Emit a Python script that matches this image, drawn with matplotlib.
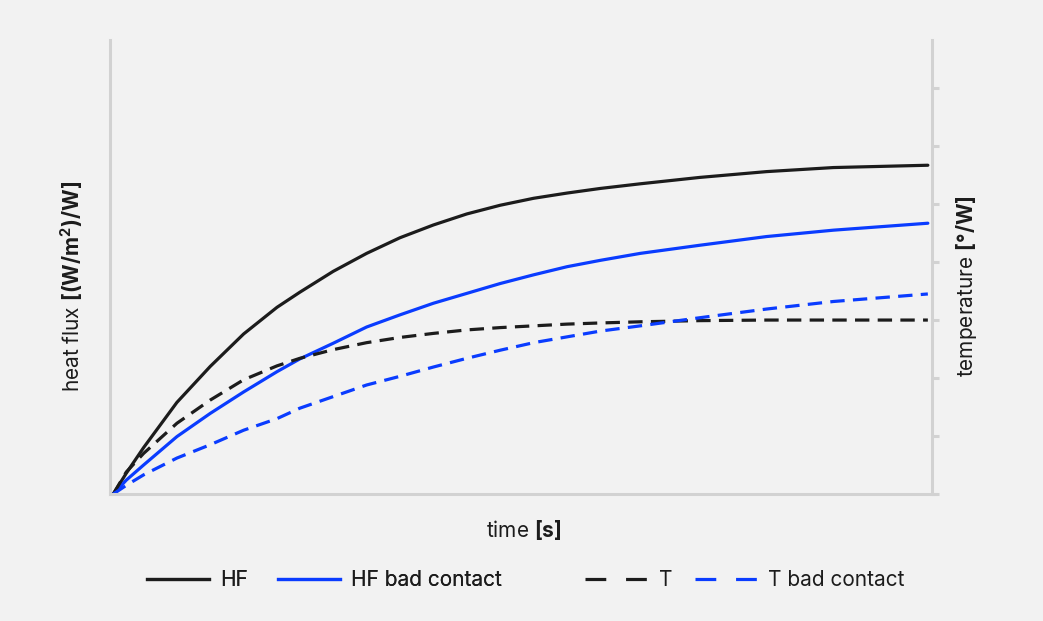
import matplotlib
matplotlib.use("Agg")
import matplotlib.pyplot as plt
from matplotlib.lines import Line2D

plt.rcParams['font.family'] = ['Inter', 'DejaVu Sans']
plt.rcParams['mathtext.fontset'] = 'custom'
plt.rcParams['mathtext.rm'] = 'Inter'
plt.rcParams['mathtext.it'] = 'Inter'
plt.rcParams['mathtext.bf'] = 'Inter:bold'

# time axis (arbitrary units) and curves
t = [0, 1.6, 3.72, 7.81, 11.9, 16.0, 20.1, 22.9, 27.0, 31.1, 35.2, 39.3, 43.4,
     47.5, 51.6, 55.7, 59.8, 64.7, 72.0, 80.2, 88.4, 100]
hf = [0, 0.36, 0.80, 1.58, 2.20, 2.76, 3.22, 3.48, 3.84, 4.15, 4.42, 4.64, 4.83,
      4.98, 5.10, 5.19, 5.27, 5.35, 5.46, 5.56, 5.63, 5.67]
hf_bad = [0, 0.24, 0.50, 0.99, 1.39, 1.76, 2.11, 2.33, 2.60, 2.88, 3.09, 3.29, 3.46,
          3.63, 3.78, 3.92, 4.03, 4.15, 4.29, 4.44, 4.55, 4.67]
temp = [0, 0.38, 0.70, 1.22, 1.62, 1.97, 2.21, 2.34, 2.49, 2.61, 2.70, 2.77, 2.83,
        2.87, 2.90, 2.93, 2.95, 2.97, 2.99, 3.00, 3.00, 3.00]
temp_bad = [0, 0.15, 0.33, 0.62, 0.85, 1.10, 1.30, 1.48, 1.68, 1.88, 2.03, 2.19, 2.34,
            2.48, 2.61, 2.71, 2.81, 2.90, 3.04, 3.19, 3.32, 3.45]

labels = ['HF', 'HF bad contact', 'T', 'T bad contact']

bg = '#f2f2f2'
grey = '#d2d2d2'
black = '#1c1c1c'
blue = '#0a3cff'

fig = plt.figure(figsize=(10.43, 6.21), dpi=100, facecolor=bg)
ax = fig.add_axes([0.1055, 0.2045, 0.788, 0.7311])
ax.set_facecolor(bg)

ax.plot(t, hf, color=black, lw=2.3, solid_capstyle='round', solid_joinstyle='round')
ax.plot(t, hf_bad, color=blue, lw=2.3, solid_capstyle='round', solid_joinstyle='round')
ax.plot(t, temp, color=black, lw=2.3, dashes=(4.5, 2.6))
ax.plot(t, temp_bad, color=blue, lw=2.3, dashes=(4.5, 2.6))

ax.set_xlim(-0.4, 100.5)
ax.set_ylim(0, 7.83)

ax.spines['top'].set_visible(False)
for s in ['left', 'right', 'bottom']:
    ax.spines[s].set_color(grey)
    ax.spines[s].set_linewidth(2.2)
ax.spines['bottom'].set_bounds(-0.4, 100.9)

ax.set_xticks([])
ax.yaxis.tick_right()
ax.set_yticks(range(8))
ax.set_yticklabels([])
ax.tick_params(axis='y', colors=grey, length=5, width=2.2, direction='out')

txt = dict(color=black, fontsize=15)
fig.text(0.069, 0.539, r'heat flux $\mathbf{[(W/m^2)/W]}$', rotation=90, ha='center', va='center', **txt)
fig.text(0.927, 0.539, r'temperature $\mathbf{[°/W]}$', rotation=90, ha='center', va='center', **txt)
fig.text(0.502, 0.147, r'time $\mathbf{[s]}$', ha='center', va='center', **txt)

handles = [
    Line2D([], [], color=black, lw=2.3),
    Line2D([], [], color=blue, lw=2.3),
    Line2D([], [], color=black, lw=2.3, dashes=(6.5, 6.2)),
    Line2D([], [], color=blue, lw=2.3, dashes=(6.5, 6.2)),
]
leg_kw = dict(frameon=False, fontsize=15, handlelength=2.98, handletextpad=0.55,
              borderpad=0, borderaxespad=0, loc='center left', labelcolor=black)
leg1 = fig.legend(handles[:2], labels[:2], ncol=2, columnspacing=1.4,
                  bbox_to_anchor=(147 / 1043, 1 - 580 / 621), **leg_kw)
fig.add_artist(leg1)
fig.legend(handles[2:], labels[2:], ncol=2, columnspacing=1.1,
           bbox_to_anchor=(585 / 1043, 1 - 580 / 621), **leg_kw)

fig.savefig('out.png', dpi=100, facecolor=bg)
